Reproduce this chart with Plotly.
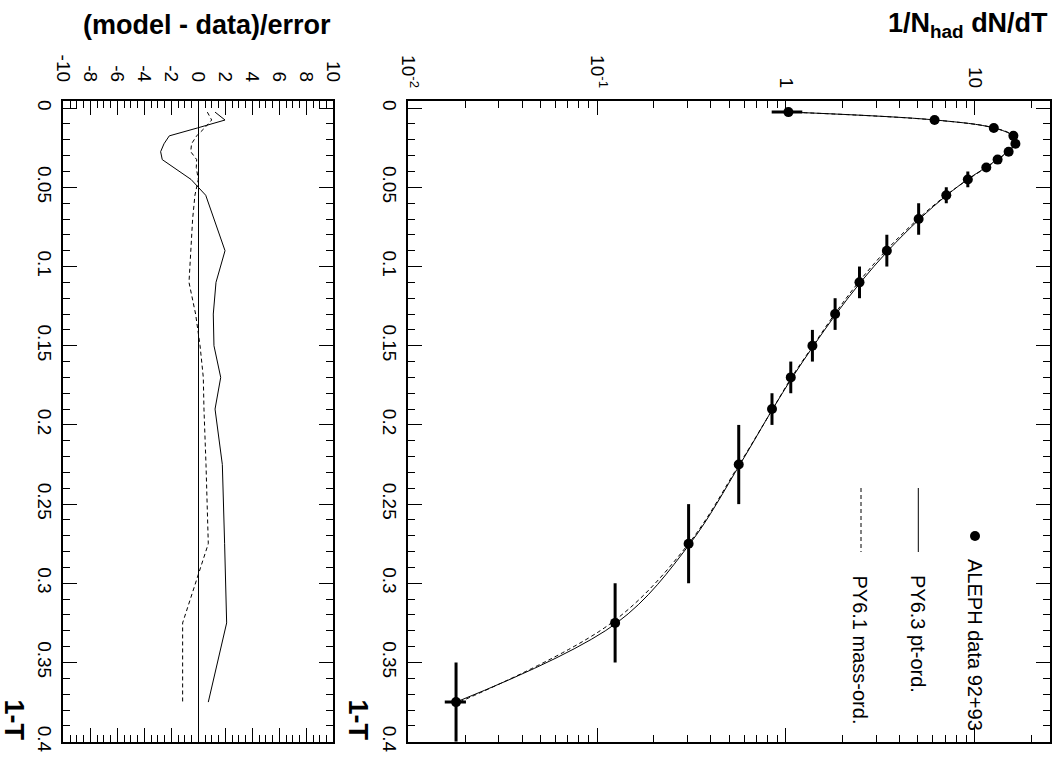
import plotly.graph_objects as go

# ---------------- data ----------------
# 1-T bin centres and half bin widths
T_CENTER = [0.0025, 0.0075, 0.0125, 0.0175, 0.0225, 0.0275, 0.0325, 0.0375,
            0.045, 0.055, 0.07, 0.09, 0.11, 0.13, 0.15, 0.17, 0.19,
            0.225, 0.275, 0.325, 0.375]
T_HALFBIN = [0.0025, 0.0025, 0.0025, 0.0025, 0.0025, 0.0025, 0.0025, 0.0025,
             0.005, 0.005, 0.01, 0.01, 0.01, 0.01, 0.01, 0.01, 0.01,
             0.025, 0.025, 0.025, 0.025]

# ALEPH data 92+93 : 1/N dN/dT and its error
ALEPH_VAL = [1.03, 6.12, 12.6, 16.0, 16.4, 15.1, 13.2, 11.5,
             9.18, 7.06, 5.04, 3.42, 2.45, 1.82, 1.38, 1.06, 0.843,
             0.562, 0.305, 0.1245, 0.0179]
ALEPH_ERR = [0.19, 0.12, 0.15, 0.15, 0.15, 0.15, 0.12, 0.1,
             0.08, 0.06, 0.04, 0.03, 0.02, 0.015, 0.012, 0.01, 0.008,
             0.006, 0.004, 0.002, 0.0023]

# model curves
PT_VAL = [1.05, 6.2, 12.6, 15.8, 16.2, 14.9, 13.1, 11.4,
          9.15, 7.1, 5.1, 3.47, 2.48, 1.84, 1.40, 1.08, 0.85,
          0.57, 0.31, 0.127, 0.0179]
MASS_VAL = [1.04, 6.15, 12.7, 16.0, 16.4, 15.0, 13.2, 11.5,
            9.2, 7.05, 5.0, 3.38, 2.42, 1.81, 1.39, 1.07, 0.85,
            0.565, 0.305, 0.119, 0.0186]

# (model - data)/error
RES_PT = [1.24, 1.98, -0.06, -2.15, -2.54, -2.79, -2.67, -1.8,
          -0.54, 0.55, 1.16, 1.98, 1.31, 1.11, 1.16, 1.66, 1.24,
          1.78, 1.95, 2.1, 0.74]
RES_MASS = [0.67, 0.99, 0.47, -0.12, -0.5, -0.56, -0.12, -0.15,
            0.0, -0.25, -0.42, -0.55, -0.69, -0.2, 0.13, 0.37, 0.42,
            0.57, 0.74, -1.16, -1.16]

# tick labels
RES_TICKS = [-10, -8, -6, -4, -2, 0, 2, 4, 6, 8, 10]
RES_TICKTEXT = ["-10", "-8", "-6", "-4", "-2", "0", "2", "4", "6", "8", "10"]
LOG_TICKS = [0.01, 0.1, 1, 10]
LOG_TICKTEXT = ["10<sup>-2</sup>", "10<sup>-1</sup>", "1", "10"]
LOG_MINOR = [0.02, 0.03, 0.04, 0.05, 0.06, 0.07, 0.08, 0.09,
             0.2, 0.3, 0.4, 0.5, 0.6, 0.7, 0.8, 0.9,
             2, 3, 4, 5, 6, 7, 8, 9, 20]

LEGEND = ["ALEPH data 92+93", "PY6.3 pt-ord.", "PY6.1 mass-ord."]

# ---------------- layout helpers ----------------
W, H = 1062, 762
FONT = "Liberation Sans, Arial, Helvetica, sans-serif"


def fx(p):
    return p / W


def fy(p):
    return 1 - p / H


LEFT_DOM = [fx(63.3), fx(333.3)]
RIGHT_DOM = [fx(408.3), fx(1050)]
Y_DOM = [fy(741.7), fy(100.7)]
T_RANGE = [0.4, -0.0047]

fig = go.Figure()

# residual panel
fig.add_trace(go.Scatter(x=RES_PT, y=T_CENTER, mode="lines",
                         line=dict(color="black", width=1),
                         xaxis="x", yaxis="y"))
fig.add_trace(go.Scatter(x=RES_MASS, y=T_CENTER, mode="lines",
                         line=dict(color="black", width=1, dash="4px,3px"),
                         xaxis="x", yaxis="y"))

# distribution panel
fig.add_trace(go.Scatter(x=PT_VAL, y=T_CENTER, mode="lines",
                         line=dict(color="black", width=1, shape="spline"),
                         xaxis="x2", yaxis="y2"))
fig.add_trace(go.Scatter(x=MASS_VAL, y=T_CENTER, mode="lines",
                         line=dict(color="black", width=1, shape="spline",
                                   dash="4px,3px"),
                         xaxis="x2", yaxis="y2"))
fig.add_trace(go.Scatter(x=ALEPH_VAL, y=T_CENTER, mode="markers",
                         marker=dict(color="black", size=10),
                         error_x=dict(type="data", array=ALEPH_ERR,
                                      color="black", thickness=3, width=0),
                         error_y=dict(type="data", array=T_HALFBIN,
                                      color="black", thickness=3, width=0),
                         xaxis="x2", yaxis="y2"))

tickfont = dict(family=FONT, size=19, color="black")
common = dict(ticks="inside", ticklen=14, tickwidth=1, tickcolor="black",
              showline=True, linecolor="black", linewidth=2,
              mirror="allticks", showgrid=False, tickfont=tickfont,
              tickangle=90, automargin=False)

fig.update_layout(
    width=W, height=H,
    margin=dict(l=0, r=0, t=0, b=0),
    paper_bgcolor="white", plot_bgcolor="white",
    showlegend=False,
    xaxis=dict(domain=LEFT_DOM, range=[-10, 10], side="top", anchor="y",
               tickmode="array", tickvals=RES_TICKS, ticktext=RES_TICKTEXT,
               minor=dict(tickmode="linear", tick0=-10, dtick=0.5,
                          ticks="inside", ticklen=7, tickwidth=1,
                          tickcolor="black"),
               zeroline=True, zerolinecolor="black", zerolinewidth=1,
               ticklabelstandoff=10, **common),
    yaxis=dict(domain=Y_DOM, range=T_RANGE, anchor="x",
               tickmode="linear", tick0=0, dtick=0.05,
               minor=dict(tickmode="linear", tick0=0, dtick=0.01,
                          ticks="inside", ticklen=7, tickwidth=1,
                          tickcolor="black"),
               zeroline=False, **common),
    xaxis2=dict(domain=RIGHT_DOM, type="log", range=[-2, 1.398], side="top",
                anchor="y2", tickmode="array", tickvals=LOG_TICKS,
                ticktext=LOG_TICKTEXT,
                minor=dict(tickmode="array", tickvals=LOG_MINOR,
                           ticks="inside", ticklen=7, tickwidth=1,
                           tickcolor="black"),
                zeroline=False, ticklabelstandoff=4, **common),
    yaxis2=dict(domain=Y_DOM, range=T_RANGE, anchor="x2",
                tickmode="linear", tick0=0, dtick=0.05,
                minor=dict(tickmode="linear", tick0=0, dtick=0.01,
                           ticks="inside", ticklen=7, tickwidth=1,
                           tickcolor="black"),
                zeroline=False, **common),
)

title_font = dict(family=FONT, size=27, color="black")
annotations = [
    dict(text="<b>(model - data)/error</b>", x=fx(333.3), y=fy(25),
         xanchor="right", yanchor="middle"),
    dict(text="<b>1/N<sub>had</sub> dN/dT</b>", x=fx(1050), y=fy(25),
         xanchor="right", yanchor="middle"),
    dict(text="<b>1-T</b>", x=fx(14), y=fy(742), xanchor="center",
         yanchor="bottom", textangle=90),
    dict(text="<b>1-T</b>", x=fx(358), y=fy(742), xanchor="center",
         yanchor="bottom", textangle=90),
]
for a in annotations:
    a.update(xref="paper", yref="paper", showarrow=False, font=title_font)

leg_font = dict(family=FONT, size=20, color="black")
leg_pos = [(975, 557), (918, 573), (860, 573)]
for text, (lx, ly) in zip(LEGEND, leg_pos):
    annotations.append(dict(text=text, x=fx(lx), y=fy(ly), xref="paper",
                            yref="paper", xanchor="center", yanchor="top",
                            textangle=90, showarrow=False, font=leg_font))
fig.update_layout(annotations=annotations)

shapes = [
    dict(type="circle", xref="paper", yref="paper",
         x0=fx(970), x1=fx(980), y0=fy(531), y1=fy(541),
         fillcolor="black", line=dict(color="black", width=0)),
    dict(type="line", xref="paper", yref="paper",
         x0=fx(918.3), x1=fx(918.3), y0=fy(488), y1=fy(552),
         line=dict(color="black", width=1)),
    dict(type="line", xref="paper", yref="paper",
         x0=fx(861), x1=fx(861), y0=fy(488), y1=fy(552),
         line=dict(color="black", width=1, dash="4px,3px")),
]
fig.update_layout(shapes=shapes)

fig.write_html("out.html",
               config={"displayModeBar": False},
               post_script="document.body.style.margin='0px';"
                           "document.body.style.overflow='hidden';")
